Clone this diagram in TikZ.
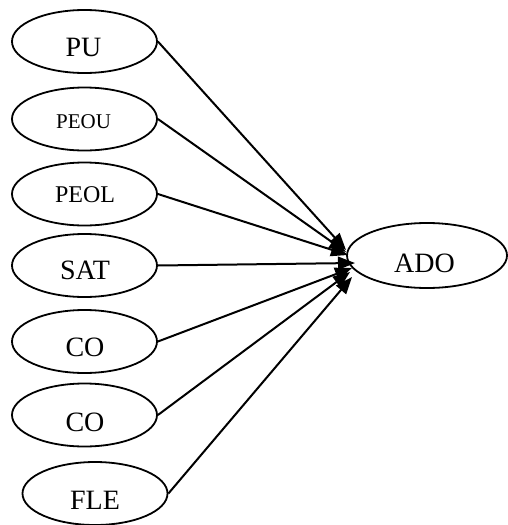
\documentclass[tikz,border=0pt]{standalone}
\usepackage{fontspec}
\setmainfont{Liberation Serif}
\usetikzlibrary{shapes.geometric,arrows.meta}
\tikzset{
  oval/.style={draw, ellipse, line width=1.8pt, inner sep=0pt, minimum width=145pt, minimum height=63pt},
  lbl/.style={anchor=base, inner sep=0pt, font=\fontsize{28}{30}\selectfont},
  lblsm/.style={anchor=base, inner sep=0pt, font=\fontsize{21}{24}\selectfont},
  lblmd/.style={anchor=base, inner sep=0pt, font=\fontsize{24}{27}\selectfont},
  conn/.style={line width=2pt, -{Triangle[length=17pt,width=13pt]}}
}
\begin{document}
\begin{tikzpicture}[x=1pt, y=-1pt]
\useasboundingbox (0,0) rectangle (508,525);
\node[oval] (pu)   at (84.5,41.5) {};
\node[oval] (peou) at (84.5,119) {};
\node[oval] (peol) at (84.5,194) {};
\node[oval] (sat)  at (84.5,265.5) {};
\node[oval] (co1)  at (84.5,341.5) {};
\node[oval] (co2)  at (84.5,415) {};
\node[oval] (fle)  at (95,493.5) {};
\node[oval, minimum width=160pt, minimum height=65pt] (ado) at (427,255.5) {};

\node[lbl]   (tpu)   at (83.5,56) {PU};
\node[lblsm] (tpeou) at (83.5,128) {PEOU};
\node[lblmd] (tpeol) at (85,202) {PEOL};
\node[lbl]   (tsat)  at (85,279) {SAT};
\node[lbl]   (tco1)  at (85,356) {CO};
\node[lbl]   (tco2)  at (85,431) {CO};
\node[lbl]   (tfle)  at (95,509) {FLE};
\node[lbl]   (tado)  at (424.5,272) {ADO};

\coordinate (e1) at (346,250);
\coordinate (e2) at (346,252);
\coordinate (e3) at (348,255);
\coordinate (e4) at (355,263);
\coordinate (e5) at (352,268);
\coordinate (e6) at (350,272);
\coordinate (e7) at (352,277);

\draw[conn] (pu.east) -- (e1);
\draw[conn] (peou.east) -- (e2);
\draw[conn] (peol.east) -- (e3);
\draw[conn] (sat.east) -- (e4);
\draw[conn] (co1.east) -- (e5);
\draw[conn] (co2.east) -- (e6);
\draw[conn] (fle.east) -- (e7);
\end{tikzpicture}
\end{document}
